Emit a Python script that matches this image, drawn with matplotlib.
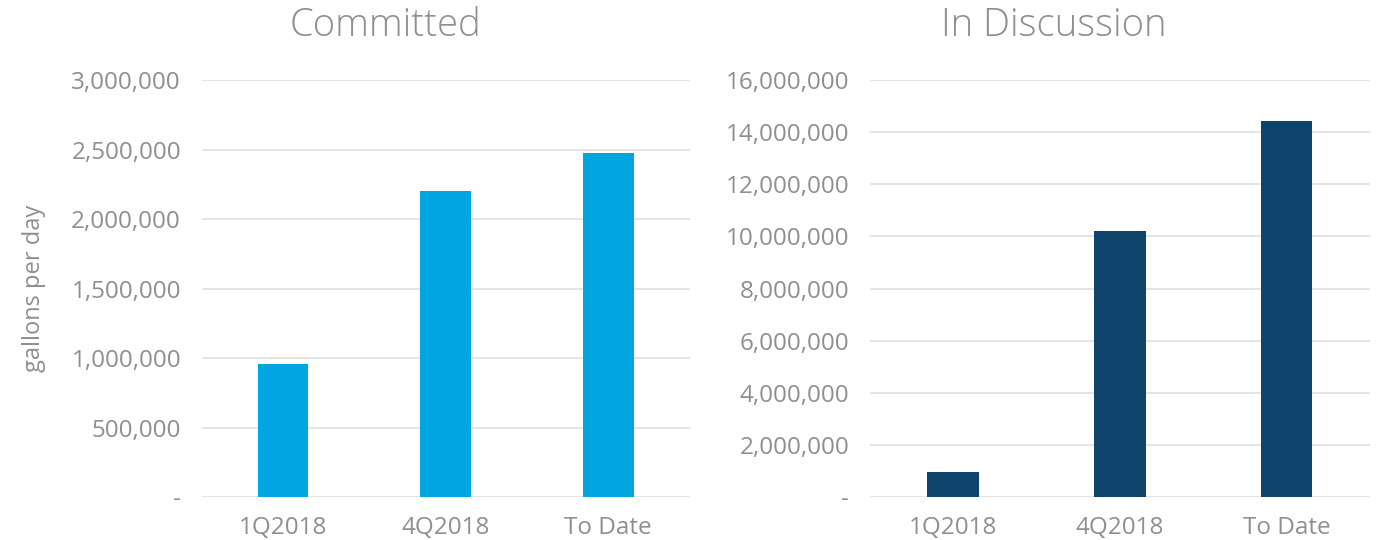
import matplotlib
matplotlib.use("Agg")
import matplotlib.pyplot as plt
from matplotlib.ticker import FuncFormatter

# data
categories = ["1Q2018", "4Q2018", "To Date"]
committed = [957000, 2201000, 2475000]
in_discussion = [960000, 10220000, 14450000]
committed_ticks = [0, 500000, 1000000, 1500000, 2000000, 2500000, 3000000]
discussion_ticks = [0, 2000000, 4000000, 6000000, 8000000, 10000000, 12000000, 14000000, 16000000]

plt.rcParams['font.family'] = ['Open Sans', 'DejaVu Sans']
text_grey = '#8f8f8f'
grid_grey = '#e3e3e3'


def fmt(v, pos):
    if v == 0:
        return '-'
    return '{:,.0f}'.format(v)


fig = plt.figure(figsize=(13.82, 5.4), dpi=100)
ax_left = fig.add_axes([0.146, 0.0796, 0.353, 0.772])
ax_right = fig.add_axes([0.6295, 0.0796, 0.3618, 0.772])

panels = [
    (ax_left, committed, committed_ticks, '#00a6df', 'Committed', 385),
    (ax_right, in_discussion, discussion_ticks, '#0f446c', 'In Discussion', 1054),
]

for ax, values, ticks, colour, title, title_x in panels:
    ax.bar(range(len(categories)), values, width=0.31, color=colour, zorder=3)
    ax.set_xlim(-0.5, len(categories) - 0.5)
    ax.set_ylim(ticks[0], ticks[-1])
    ax.set_yticks(ticks)
    ax.yaxis.set_major_formatter(FuncFormatter(fmt))
    ax.set_xticks(range(len(categories)))
    ax.set_xticklabels(categories)
    ax.grid(axis='y', color=grid_grey, linewidth=1.3, zorder=0)
    for s in ax.spines.values():
        s.set_visible(False)
    ax.tick_params(axis='both', length=0, labelsize=17.5, labelcolor=text_grey)
    ax.tick_params(axis='y', pad=15)
    ax.tick_params(axis='x', pad=14)
    # titles sit left of the plot centre in the original
    fig.text(title_x / 1382, 1 - 26 / 540, title, fontsize=27.5, color=text_grey,
             ha='center', va='center', fontweight='light')

ax_left.set_ylabel('gallons per day', fontsize=17, color=text_grey, labelpad=18)

fig.savefig('out.png', dpi=100)
